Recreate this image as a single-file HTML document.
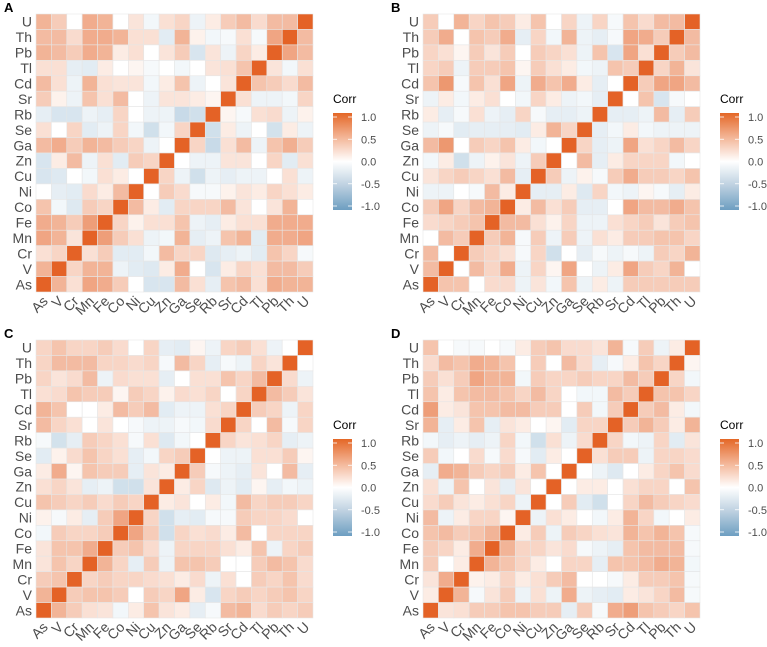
<!DOCTYPE html>
<html><head><meta charset="utf-8"><style>
body{margin:0;background:#fff}
svg{display:block;font-family:"Liberation Sans",Arial,sans-serif}
</style></head><body>
<svg id="chart" width="767" height="647" viewBox="0 0 767 647" xmlns="http://www.w3.org/2000/svg">
<defs><linearGradient id="cg" x1="0" y1="1" x2="0" y2="0">
<stop offset="0" stop-color="#6d9ec1"/><stop offset="0.25" stop-color="#bcd0e0"/><stop offset="0.5" stop-color="#ffffff"/><stop offset="0.75" stop-color="#f3b596"/><stop offset="1" stop-color="#e46726"/></linearGradient></defs>
</svg>
<script>
const vars = ["As","V","Cr","Mn","Fe","Co","Ni","Cu","Zn","Ga","Se","Rb","Sr","Cd","Tl","Pb","Th","U"];
const panelLabels = ["A","B","C","D"];
const legendTicks = [1.0,0.5,0.0,-0.5,-1.0];
const legendTickLabels = ["1.0","0.5","0.0","-0.5","-1.0"];
// rows listed top (U) to bottom (As); columns As..U
const corrA = [
[.35,.2,0,.4,.35,0,.08,-.03,.1,.15,-.05,.05,.2,.3,.12,.3,.3,1],
[.3,.3,.12,.4,.4,.35,.1,.1,-.1,.35,.03,-.03,-.02,.1,-.02,.45,1,.3],
[.35,.3,.2,.4,.35,.05,.1,0,.08,.2,-.15,.08,-.05,.15,.05,1,.45,.3],
[.1,.1,-.08,-.1,.05,0,.02,-.02,0,-.03,0,.08,.1,.25,1,.08,-.03,.1],
[.3,.1,-.05,.35,.1,.08,.08,-.03,.05,.25,-.05,0,.08,1,.25,.2,.12,.3],
[.2,.03,-.05,.25,.1,.3,0,-.05,.08,.08,.05,.02,1,.1,-.05,-.05,-.03,.15],
[-.08,-.15,-.15,-.05,-.08,.15,0,-.05,-.05,-.25,-.2,1,.02,-.02,.1,.12,-.05,.03],
[.1,0,.15,-.1,-.05,.15,-.03,-.2,-.03,.15,1,-.2,.05,-.05,0,-.18,.05,-.05],
[.3,.4,.2,.35,.3,.2,.15,-.05,0,1,.15,-.25,.1,.3,-.05,.25,.38,.2],
[-.15,.05,.3,-.05,.1,-.1,.2,.15,1,0,-.05,-.05,.08,.08,0,.15,-.1,.1],
[-.15,-.12,0,-.03,.1,.05,0,1,.15,-.05,-.2,-.05,-.08,-.05,-.05,0,.1,-.05],
[0,-.08,-.1,.12,.05,.3,1,0,.2,.12,-.02,-.02,.03,.08,.05,.15,.1,.05],
[.25,-.03,-.12,.2,.15,1,.3,.05,-.1,.15,.15,.15,.3,.08,0,.08,.35,0],
[.4,.35,.2,.5,1,.15,.03,.1,.1,.25,-.05,-.08,.05,.1,.1,.4,.4,.4],
[.45,.35,.08,1,.5,.2,.1,-.05,-.03,.35,-.08,-.05,.25,.35,-.1,.4,.4,.45],
[.1,.15,1,.1,.2,-.1,-.1,-.03,.3,.15,.15,-.12,-.08,-.05,-.1,.25,.15,-.02],
[.35,1,.15,.35,.35,-.05,-.1,-.12,.05,.4,0,-.15,.05,.15,.1,.3,.3,.2],
[1,.35,.1,.45,.4,.2,0,-.15,-.15,.3,.1,-.08,.25,.3,.1,.4,.35,.35]];
const corrB = [
[.2,0,.35,.15,.25,.2,.05,.25,0,.15,-.05,.15,-.02,.25,.12,.3,.3,1],
[.2,.4,0,.25,.2,.4,-.08,.15,-.03,.35,-.05,-.08,-.02,.45,.4,.2,1,.3],
[.15,.1,.02,.2,.08,.2,0,.2,.15,.1,-.05,.25,-.15,.45,.1,1,.2,.3],
[.15,.2,-.05,.2,.2,.25,.02,.2,.1,.05,-.03,-.05,.25,.2,1,.15,.35,.08],
[.25,.55,-.02,.25,.1,.45,-.05,.4,.25,.4,.05,-.08,0,1,.2,.45,.45,.3],
[-.05,.05,-.03,.05,.1,0,-.03,.15,.05,-.05,-.03,-.08,1,0,.25,-.15,-.02,0],
[.05,-.08,-.02,.1,-.05,-.08,.15,-.02,-.08,-.08,-.05,1,-.08,-.08,-.05,.3,-.08,.2],
[-.05,-.02,-.1,-.08,-.08,-.08,-.1,.05,.35,.15,1,-.08,-.03,.05,-.03,-.05,-.05,-.05],
[.3,.55,0,.2,.15,.25,.05,-.03,0,1,.15,-.08,-.05,.45,.1,.15,.3,.15],
[-.03,.05,-.2,-.05,.03,.08,-.05,.2,1,0,.3,-.08,.05,.15,.15,.15,-.03,0],
[.08,.15,.2,.15,.1,.3,-.08,1,.2,-.05,.03,-.02,.2,.4,.2,.2,.15,.25],
[-.05,-.05,0,-.02,.3,.05,1,-.08,-.08,.05,-.12,.15,-.03,-.05,.02,-.02,-.08,.05],
[.2,.45,.15,.3,.35,1,.05,.3,.1,.2,-.08,-.08,0,.45,.3,.3,.4,.25],
[.12,.15,.2,.25,1,.3,.3,.1,.03,.15,-.05,-.05,.1,.15,.2,.08,.2,.25],
[0,.3,.2,1,.2,.35,-.02,.2,-.05,.2,-.05,.1,.05,.2,.2,.25,.25,.15],
[.3,0,1,.2,.15,.1,-.02,.15,-.2,0,-.08,-.02,-.05,-.02,-.05,.2,.15,.35],
[.3,1,0,.3,.15,.4,-.05,.15,.02,.45,0,-.05,.05,.45,.2,.15,.35,0],
[1,.25,.25,0,.12,.12,-.05,.08,-.03,.25,-.05,.05,-.05,.2,.2,.2,.2,.2]];
const corrC = [
[.15,.25,.15,.15,.2,.12,0,.15,-.08,-.1,.02,-.05,.15,.2,.1,-.05,0,1],
[.15,.3,.3,.3,.15,.15,.12,.15,-.02,.3,.15,-.08,-.02,-.05,.15,.08,1,0],
[.15,.08,.12,.3,-.05,.12,.1,.1,-.08,0,.1,.1,.25,.15,.3,1,.12,-.05],
[.1,.12,.25,.2,.2,.02,.2,.15,.03,.12,.1,.15,0,.15,1,.3,.2,.08],
[.35,.25,0,0,.05,.3,.2,.3,-.1,-.05,-.05,.1,.15,1,.2,.15,-.05,.15],
[.3,.15,.1,0,.08,0,-.02,-.05,-.05,-.02,-.03,.12,1,.15,0,.3,-.02,.15],
[-.02,-.18,-.08,.2,.15,.1,-.02,.1,-.12,-.03,0,1,.15,.08,.1,.15,-.08,-.05],
[-.1,.03,.12,.25,.15,.1,-.08,-.03,.15,.2,1,0,-.05,-.05,.1,.1,.2,.02],
[.05,.4,.02,.25,.2,.2,-.08,.08,.05,1,.2,-.02,-.05,-.08,.08,0,.3,-.08],
[.1,.15,.08,-.08,-.05,-.2,-.2,.08,1,.05,.15,-.12,-.05,-.1,.02,-.08,-.03,-.05],
[.25,.2,.15,.2,.12,.2,.15,1,.05,.08,0,.05,-.03,.3,.15,.2,.2,.15],
[.03,-.02,.05,-.08,.2,.45,1,.15,-.2,-.08,-.1,-.02,-.02,.2,.15,.15,.12,0],
[-.03,.2,.15,.15,.2,1,.45,.2,-.2,.15,.1,.12,.05,.3,0,.15,.15,.15],
[.08,.25,.25,.4,1,.2,.25,.12,-.05,.15,.15,.15,.1,.05,.25,-.05,.15,.2],
[.08,.25,.15,1,.35,.15,-.08,.2,-.05,.25,.25,.2,0,0,.2,.3,.25,.12],
[.2,.25,1,.15,.2,.15,.15,.12,.1,.05,.12,-.05,.1,0,.2,.15,.25,.12],
[.35,1,.2,.25,.25,.2,0,.2,.15,.45,.05,-.15,.15,.2,.15,.2,.25,.15],
[1,.35,.2,.1,.08,-.03,.05,.25,.08,.05,-.08,-.02,.3,.35,.12,.2,.15,.2]];
const corrD = [
[.25,0,-.02,-.02,0,-.02,.05,.2,.25,.12,.12,.08,.35,-.02,.2,-.05,.05,1],
[.12,.3,.25,.4,.35,.25,0,.2,0,.3,.12,-.08,-.02,.05,.25,.15,1,.02],
[.2,.1,.2,.45,.35,.35,-.03,.2,.15,.15,.2,.15,.15,.3,.2,1,.15,-.03],
[.25,.05,.25,.3,.3,.25,.15,.3,.15,0,-.03,-.03,.3,.2,1,.25,.25,.15],
[.5,.05,.08,.25,.25,.3,.3,.2,.2,0,.2,-.03,.2,1,.2,.3,.05,-.03],
[.35,-.08,.05,.25,-.08,.08,.05,0,.02,-.1,.15,.15,1,.2,.35,.2,.05,.35],
[-.03,-.08,-.05,-.08,-.05,.15,-.03,-.2,.1,-.05,.12,1,.15,-.03,-.05,.15,-.1,.08],
[.2,-.03,0,.12,-.02,.12,-.02,-.1,.05,0,1,.1,.2,.2,-.05,.15,.15,.12],
[-.08,.4,.35,.2,.15,.2,.05,.25,0,1,0,-.05,-.12,0,.05,.15,.25,.12],
[.1,-.05,.25,0,.08,-.08,.08,0,1,0,.05,.05,0,.1,.15,.15,0,.25],
[.12,.2,.08,.05,.1,.15,-.05,1,0,.2,-.1,-.2,0,.15,.3,.2,.15,.12],
[.3,-.05,.05,.15,.15,.02,1,-.05,.1,.05,0,-.03,.05,.35,.15,-.03,0,.05],
[.25,.3,.2,.25,.35,1,.05,.2,-.05,.2,.15,.1,.08,.35,.25,.35,.25,-.02],
[.2,.15,.05,.4,1,.35,.15,.15,.08,.12,-.02,-.05,-.08,.25,.3,.3,.3,-.02],
[.2,0,.05,1,.35,.25,.15,.05,0,.15,.15,-.08,.25,.25,.3,.4,.35,-.03],
[.08,.4,1,.03,.05,.15,.05,.1,.2,.3,0,0,-.02,.05,.2,.2,.25,-.02],
[.05,1,.35,-.02,.08,.2,-.05,.1,-.05,.4,-.05,-.08,-.1,.05,.08,.15,.3,-.02],
[1,.08,.1,.2,.2,.25,.25,.2,.2,-.08,.2,-.02,.4,.5,.25,.2,.15,.25]];
const panels = [corrA, corrB, corrC, corrD];

const NS = "http://www.w3.org/2000/svg";
const svg = document.getElementById('chart');
function mk(tag, attrs, parent){const e=document.createElementNS(NS,tag);for(const k in attrs)e.setAttribute(k,attrs[k]);(parent||svg).appendChild(e);return e;}
function color(v){
  v=Math.max(-1,Math.min(1,v));
  const t=Math.pow(Math.abs(v),0.7);
  const hi=[228,98,38], lo=[109,158,193];
  const c=v>=0?hi:lo;
  return `rgb(${Math.round(255+(c[0]-255)*t)},${Math.round(255+(c[1]-255)*t)},${Math.round(255+(c[2]-255)*t)})`;
}
const N = vars.length;
const gridW = 277, gridH = 278;
const cw = gridW/N, ch = gridH/N;
const offs = [[0,0],[387,0],[0,326],[387,326]];
panels.forEach((mat, p) => {
  const ox = 36 + offs[p][0], oy = 14 + offs[p][1];
  const xs = i => ox + i*cw;
  const ys = r => oy + r*ch;
  const g = mk('g', {});
  
  
  const lbl = mk('text', {x: offs[p][0]+4, y: offs[p][1]+12, 'font-size': 13, 'font-weight': 'bold', fill: '#000'}, g);
  lbl.textContent = panelLabels[p];
  
  
  mat.forEach((row, r) => row.forEach((v, c) => {
    const rc = mk('rect', {x: xs(c), y: ys(r), width: cw, height: ch, fill: color(v), stroke: '#e6e6e6', 'stroke-width': 0.6}, g);
    
    
  }));
  for (let r = 0; r < N; r++) {
    const t = mk('text', {x: ox-4, y: ys(r)+ch/2+5, 'text-anchor': 'end', 'font-size': 14, fill: '#4d4d4d'}, g);
    t.textContent = vars[N-1-r];
    
    
  }
  for (let c = 0; c < N; c++) {
    const x = xs(c)+cw/2+5, y = oy+gridH+10;
    const t = mk('text', {x: x, y: y, 'text-anchor': 'end', 'font-size': 14, fill: '#4d4d4d', transform: `rotate(-45 ${x} ${y})`}, g);
    t.textContent = vars[c];
    
    
  }
  const lx = 333 + offs[p][0], ly = 113 + offs[p][1];
  const lg = mk('g', {}, svg);
  
  
  const tt = mk('text', {x: lx, y: ly-10, 'font-size': 12, fill: '#000'}, lg);
  tt.textContent = 'Corr';
  
  
  const barH = 97;
  mk('rect', {x: lx, y: ly, width: 19, height: barH, fill: 'url(#cg)'}, lg);
  const vy = v => ly + 4 + (1 - v)/2 * (barH - 8);
  legendTicks.forEach((v, i) => {
    mk('line', {x1: lx, x2: lx+4, y1: vy(v), y2: vy(v), stroke: '#fff', 'stroke-width': 0.8}, lg);
    mk('line', {x1: lx+15, x2: lx+19, y1: vy(v), y2: vy(v), stroke: '#fff', 'stroke-width': 0.8}, lg);
    const tl = mk('text', {x: lx+28, y: vy(v)+4, 'font-size': 11, fill: '#4d4d4d'}, lg);
    tl.textContent = legendTickLabels[i];
    
    
  });
});
</script>
</body></html>
